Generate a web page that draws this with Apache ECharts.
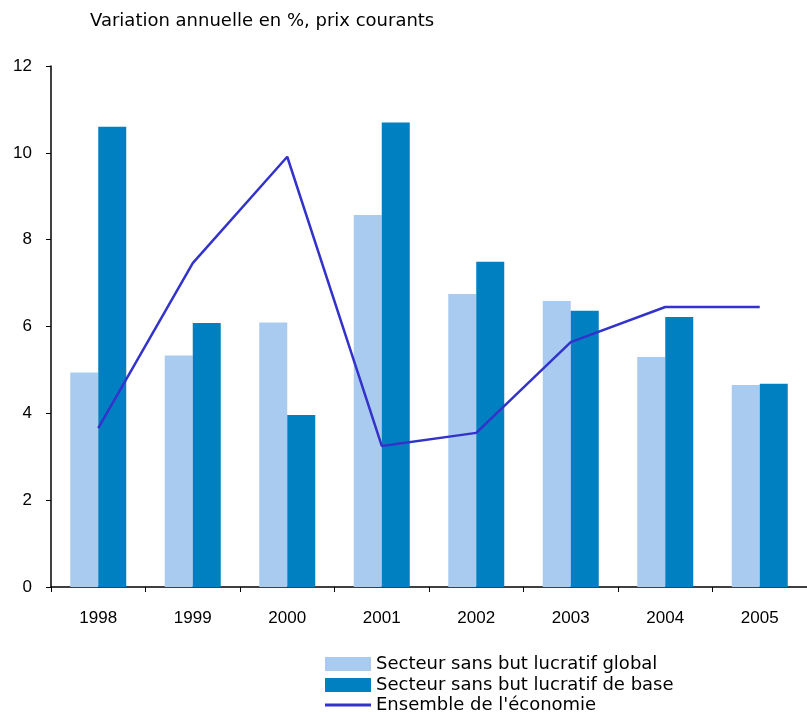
<!DOCTYPE html>
<html>
<head>
    <meta charset="utf-8">
    <script src="https://cdn.jsdelivr.net/npm/echarts@6.0.0/dist/echarts.min.js"></script>
</head>
<body style="margin:0">
    <div id="chart" style="width:807px;height:712px;"></div>
</body>
<script type="text/javascript">
    var years = ['1998', '1999', '2000', '2001', '2002', '2003', '2004', '2005'];
    var globalSector = [4.94, 5.33, 6.09, 8.57, 6.75, 6.59, 5.3, 4.65];
    var baseSector = [10.6, 6.08, 3.96, 10.7, 7.49, 6.36, 6.22, 4.68];
    var economy = [3.66, 7.46, 9.91, 3.25, 3.55, 5.64, 6.45, 6.45];
    var yTicks = [0, 2, 4, 6, 8, 10, 12];
    var names = ['Secteur sans but lucratif global', 'Secteur sans but lucratif de base', "Ensemble de l'économie"];

    var wide = 'DejaVu Sans, Verdana, sans-serif';
    var font = 'Liberation Sans, Arial, sans-serif';

    // one legend per row so they stack tightly without wrapping
    var legendStyle = { fontFamily: wide, fontSize: 18, color: '#000' };
    var legends = [
        { left: 325, top: 655, itemWidth: 46, itemHeight: 14, icon: 'rect', padding: 0, textStyle: legendStyle, data: [names[0]] },
        { left: 325, top: 676, itemWidth: 46, itemHeight: 14, icon: 'rect', padding: 0, textStyle: legendStyle, data: [names[1]] },
        { left: 325, top: 696, itemWidth: 46, itemHeight: 3, icon: 'rect', padding: 0, textStyle: legendStyle, data: [names[2]] }
    ];

    var option = {
        animation: false,
        title: {
            text: 'Variation annuelle en %, prix courants',
            left: 85,
            top: 7,
            textStyle: { fontFamily: wide, fontSize: 18, fontWeight: 'normal', color: '#000' }
        },
        grid: { left: 51, top: 66, bottom: 125, right: -12 },
        legend: legends,
        xAxis: {
            type: 'category',
            data: years,
            axisLine: { lineStyle: { color: '#000', width: 1.5 } },
            axisTick: { show: true, length: 5, lineStyle: { color: '#000' } },
            axisLabel: { margin: 23, fontFamily: font, fontSize: 17, color: '#000' }
        },
        yAxis: {
            type: 'value',
            min: yTicks[0],
            max: yTicks[yTicks.length - 1],
            interval: 2,
            splitLine: { show: false },
            axisLine: { show: true, lineStyle: { color: '#000', width: 1.5 } },
            axisTick: { show: true, length: 5, lineStyle: { color: '#000' } },
            axisLabel: { margin: 19, fontFamily: font, fontSize: 17, color: '#000' }
        },
        series: [
            {
                name: names[0],
                type: 'bar',
                barWidth: 28,
                barGap: '0%',
                itemStyle: { color: '#a8cbef' },
                data: globalSector
            },
            {
                name: names[1],
                type: 'bar',
                barWidth: 28,
                itemStyle: { color: '#0080c0' },
                data: baseSector
            },
            {
                name: names[2],
                type: 'line',
                symbol: 'none',
                lineStyle: { color: '#3333cc', width: 2.5 },
                itemStyle: { color: '#3333cc' },
                data: economy
            }
        ]
    };

    var chart = echarts.init(document.getElementById('chart'));
    chart.setOption(option);
</script>
</html>
